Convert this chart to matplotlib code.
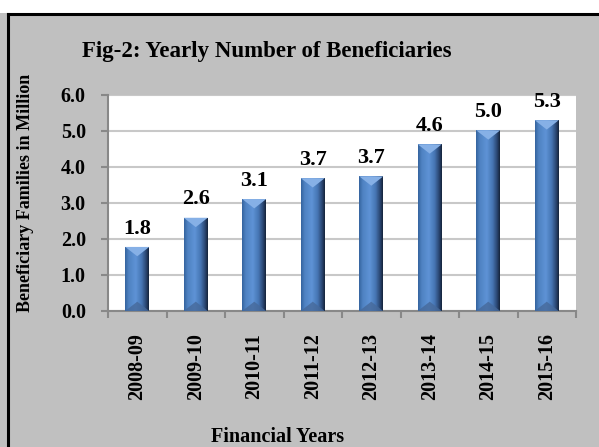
import numpy as np
import matplotlib
matplotlib.use("Agg")
import matplotlib.pyplot as plt
from matplotlib.colors import LinearSegmentedColormap
from matplotlib.patches import Polygon
from matplotlib.lines import Line2D

years = ["2008-09", "2009-10", "2010-11", "2011-12",
         "2012-13", "2013-14", "2014-15", "2015-16"]
beneficiaries = [1.78, 2.59, 3.11, 3.69, 3.74, 4.63, 5.02, 5.30]

plt.rcParams["font.family"] = ["Liberation Serif", "DejaVu Serif"]
plt.rcParams["font.weight"] = "bold"

fig = plt.figure(figsize=(5.99, 4.47), dpi=100, facecolor="#c0c0c0")
ax = fig.add_axes([108 / 599, 1 - 311 / 447, 468 / 599, 216 / 447])
ax.set_facecolor("white")

# white strip at top + black frame lines
fig.add_artist(plt.Rectangle((0, 1 - 13 / 447), 1, 13 / 447, transform=fig.transFigure,
                             facecolor="white", edgecolor="none", zorder=0))
fig.add_artist(Line2D([8 / 599, 597 / 599], [1 - 14 / 447] * 2, transform=fig.transFigure,
                      color="black", lw=2.2))
fig.add_artist(Line2D([8 / 599] * 2, [0, 1 - 14 / 447], transform=fig.transFigure,
                      color="black", lw=2.2))

x = np.arange(len(years))
bars = ax.bar(x, beneficiaries, width=0.41, color="none", zorder=3)

cmap = LinearSegmentedColormap.from_list("col", [
    (0.0, "#35649f"), (0.15, "#4f82c2"), (0.45, "#5e93d6"),
    (0.7, "#4675b3"), (0.88, "#2b4874"), (1.0, "#15243c")])
grad = np.linspace(0, 1, 64).reshape(1, -1)
bev = 0.26
for b in bars:
    x0, w, h = b.get_x(), b.get_width(), b.get_height()
    im = ax.imshow(grad, extent=[x0, x0 + w, 0, h], aspect="auto", cmap=cmap, zorder=3)
    im.set_clip_path(b)
    ax.add_patch(Polygon([[x0, h], [x0 + w, h], [x0 + w / 2, h - bev]],
                         closed=True, facecolor="#86b0e6", edgecolor="none", zorder=4))
    ax.add_patch(Polygon([[x0, 0], [x0 + w, 0], [x0 + w / 2, bev]],
                         closed=True, facecolor="#46699a", edgecolor="none", alpha=0.8, zorder=4))
    ax.annotate(f"{h:.1f}", (x0 + w / 2, h), xytext=(0, 6), textcoords="offset points",
                ha="center", va="bottom", fontsize=16, fontweight="bold", zorder=5)

ax.set_xlim(-0.5, len(years) - 0.5)
ax.set_ylim(0, 6)
ax.set_yticks(np.arange(0, 7, 1.0))
ax.set_yticklabels([f"{v:.1f}" for v in np.arange(0, 7, 1.0)], fontsize=14.5, fontweight="bold")
ax.yaxis.grid(True, color="#c8c8c8", lw=1.5, zorder=1)
ax.set_axisbelow(True)

ax.set_xticks(x)
ax.set_xticklabels(years, rotation=90, fontsize=14.5, fontweight="bold")
ax.set_xticks(np.arange(-0.5, len(years)), minor=True)
ax.tick_params(axis="x", which="major", length=0, pad=16)
ax.tick_params(axis="x", which="minor", length=5, color="#888888", width=1.5)
ax.tick_params(axis="y", length=5, color="#888888", width=1.5, pad=11)

for s in ["top", "right"]:
    ax.spines[s].set_visible(False)
for s in ["left", "bottom"]:
    ax.spines[s].set_color("#888888")
    ax.spines[s].set_linewidth(1.5)

fig.text(267 / 599, 1 - 52 / 447, "Fig-2: Yearly Number of Beneficiaries",
         ha="center", va="center", fontsize=16.5, fontweight="bold")
fig.text(26 / 599, 1 - 193 / 447, "Beneficiary Families in Million", rotation=90,
         ha="center", va="center", fontsize=13, fontweight="bold")
fig.text(278 / 599, 1 - 437 / 447, "Financial Years",
         ha="center", va="center", fontsize=14.5, fontweight="bold")

fig.savefig("out.png", dpi=100, facecolor=fig.get_facecolor())
